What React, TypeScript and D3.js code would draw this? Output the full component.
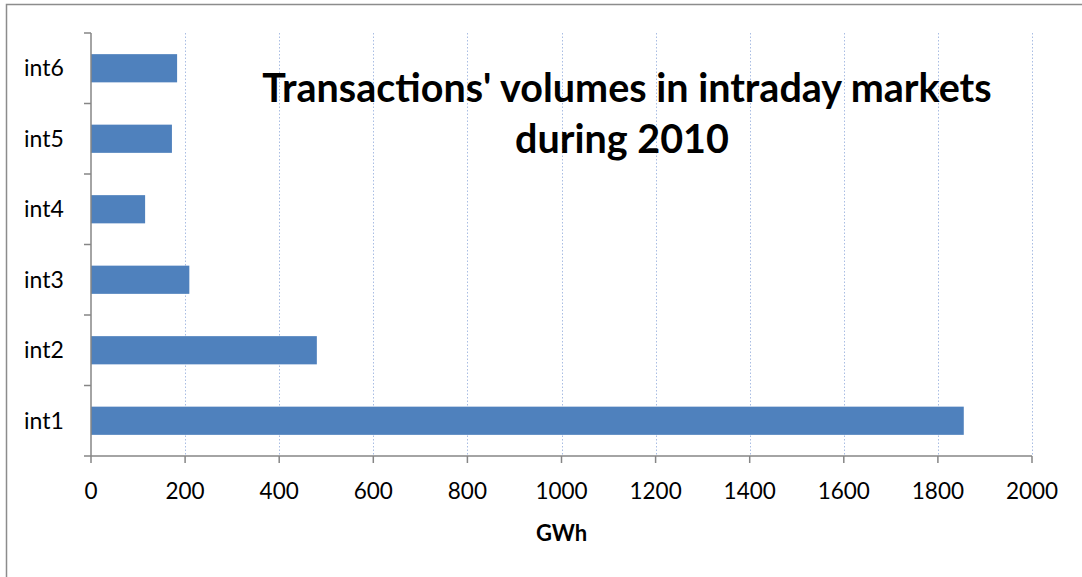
import React from "react";
import * as d3 from "d3";

const categories = ["int1", "int2", "int3", "int4", "int5", "int6"];
const values = [1855, 480, 209, 115, 172, 183];
const xTicks = [0, 200, 400, 600, 800, 1000, 1200, 1400, 1600, 1800, 2000];
const titleLines = ["Transactions' volumes in intraday markets", "during 2010"];
const xLabel = "GWh";

export default function App() {
  const W = 1082, H = 577;
  const left = 91, right = 1032, top = 33, bottom = 456;
  const x = d3.scaleLinear().domain([0, 2000]).range([left, right]);
  const y = d3.scaleBand().domain([...categories].reverse()).range([top, bottom]).paddingInner(0.6).paddingOuter(0.3);
  const band = (bottom - top) / categories.length;
  const font = "Lato, 'Open Sans', sans-serif";
  return (
    <svg width={W} height={H} style={{ position: "absolute", left: 0, top: 0 }} fontFamily={font}>
      <rect x={0} y={0} width={W} height={H} fill="#fff" />
      <rect x={6.5} y={4.5} width={W} height={H} fill="none" stroke="#8c8c8c" strokeWidth={1.5} />
      {xTicks.filter(t => t > 0).map(t => (
        <line key={"g" + t} x1={Math.round(x(t)) + 0.5} x2={Math.round(x(t)) + 0.5} y1={top} y2={bottom}
          stroke="#a9bde3" strokeWidth={1} strokeDasharray="1.5 2" />
      ))}
      {categories.map((c, i) => (
        <rect key={c} x={x(0)} y={y(c)!} width={x(values[i]) - x(0)} height={y.bandwidth()} fill="#4f81bd" />
      ))}
      <line x1={left} x2={left} y1={top} y2={bottom} stroke="#868686" strokeWidth={1.5} />
      <line x1={left} x2={right} y1={bottom} y2={bottom} stroke="#868686" strokeWidth={1.5} />
      {d3.range(categories.length + 1).map(i => (
        <line key={"yt" + i} x1={left - 7} x2={left} y1={top + i * band} y2={top + i * band} stroke="#868686" strokeWidth={1.5} />
      ))}
      {xTicks.map(t => (
        <line key={"xt" + t} x1={x(t)} x2={x(t)} y1={bottom} y2={bottom + 7} stroke="#868686" strokeWidth={1.5} />
      ))}
      {categories.map(c => (
        <text key={"l" + c} x={24} y={y(c)! + y.bandwidth() / 2} dy="0.35em" fontSize={23} fill="#000">{c}</text>
      ))}
      {xTicks.map(t => (
        <text key={"xl" + t} x={x(t)} y={499} textAnchor="middle" fontSize={22.5} fill="#000">{t}</text>
      ))}
      <text x={(left + right) / 2} y={541} textAnchor="middle" fontSize={22} fontWeight="bold" fill="#000">{xLabel}</text>
      <text x={627} y={102} textAnchor="middle" fontSize={39.5} fontWeight="bold" fill="#000">{titleLines[0]}</text>
      <text x={622} y={153} textAnchor="middle" fontSize={39.5} fontWeight="bold" fill="#000">{titleLines[1]}</text>
    </svg>
  );
}
